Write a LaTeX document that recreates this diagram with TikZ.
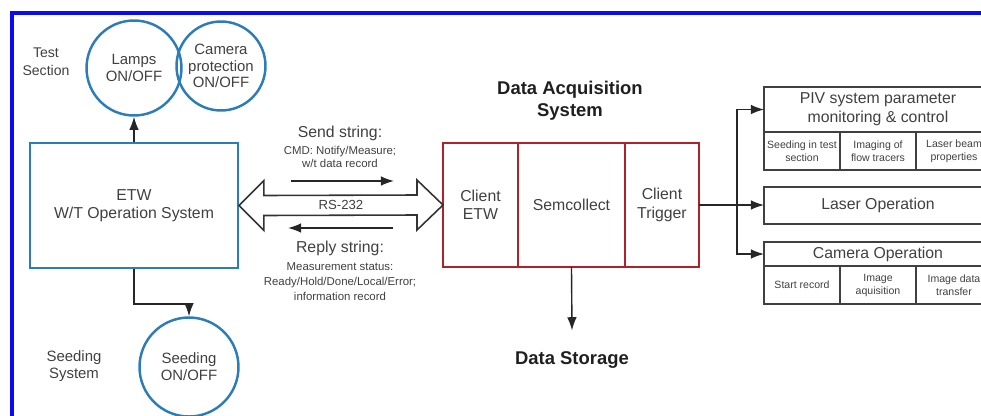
\documentclass[tikz,border=0pt]{standalone}
\usepackage{fontspec}
\setmainfont{Liberation Sans}
\usepackage{xcolor}
\usetikzlibrary{arrows.meta, positioning, calc}

\definecolor{etwblue}{RGB}{44,124,184}
\definecolor{daqred}{RGB}{178,32,44}
\definecolor{framebl}{RGB}{10,10,245}

\begin{document}
\begin{tikzpicture}[
        x=0.02cm, y=-0.02cm,
        txt/.style={text=black!75, align=center, inner sep=1pt},
        side/.style={txt, font=\fontsize{8.5}{10}\selectfont},
        circ/.style={circle, draw=etwblue, line width=1.4pt, inner sep=0pt,
                     txt, font=\fontsize{8.5}{9.5}\selectfont},
        etwbox/.style={rectangle, draw=etwblue, line width=1.1pt,
                       minimum width=4.16cm, minimum height=2.5cm,
                       txt, font=\fontsize{9}{10.5}\selectfont},
        daqcell/.style={rectangle, draw=daqred, line width=1.2pt, outer sep=0pt,
                        minimum height=2.48cm, txt, font=\fontsize{9}{10.5}\selectfont},
        hdbox/.style={rectangle, draw=black!75, line width=0.9pt, outer sep=0pt,
                      minimum width=4.56cm, txt, font=\fontsize{9}{10.8}\selectfont},
        cell/.style={rectangle, draw=black!75, line width=0.9pt, outer sep=0pt,
                     minimum width=1.52cm, minimum height=0.76cm, txt, inner sep=0.5pt,
                     font=\fontsize{6}{7.4}\selectfont},
        title/.style={align=center, text=black!88, font=\bfseries\fontsize{10.5}{12.5}\selectfont},
        arr/.style={-{Latex[length=7.5pt, width=5.5pt]}, line width=0.8pt, black!85},
        bus/.style={draw=black!80, line width=0.9pt, fill=white},
    ]
    \clip (0,0) rectangle (981,416);
    \draw[framebl, line width=2.3pt] (12,420) -- (12,13) -- (985,13);

    % wind tunnel side
    \node[side, font=\fontsize{8}{10}\selectfont] (tsec) at (46,62) {Test\\Section};
    \node[circ, minimum size=1.9cm] (lamps) at (134,68) {Lamps\\ON/OFF};
    \node[circ, minimum size=1.78cm] (cam) at (221,66) {Camera\\protection\\ON/OFF};
    \node[etwbox] (etw) at (134,205.5) {ETW\\W/T Operation System};
    \node[side] (ssys) at (74,366) {Seeding\\System};
    \node[circ, minimum size=1.98cm] (seed) at (189,367) {Seeding\\ON/OFF};

    % data acquisition
    \node[title] (daqt) at (570,101) {Data Acquisition\\System};
    \node[daqcell, minimum width=1.5cm] (cetw) at (480.5,205) {Client\\ETW};
    \node[daqcell, minimum width=2.14cm, right=0pt of cetw] (sem) {Semcollect};
    \node[daqcell, minimum width=1.48cm, right=0pt of sem] (trig) {Client\\Trigger};
    \node[title] (store) at (572,360) {Data Storage};

    % PIV side
    \node[hdbox, minimum height=0.9cm] (piv) at (878,109.5) {PIV system parameter\\monitoring \& control};
    \node[cell, anchor=north west] (pc1) at (piv.south west) {Seeding in test\\section};
    \node[cell, right=0pt of pc1] (pc2) {Imaging of\\flow tracers};
    \node[cell, right=0pt of pc2] (pc3) {Laser beam\\properties};
    \node[hdbox, minimum height=0.74cm] (laser) at (878,205.5) {Laser Operation};
    \node[hdbox, minimum height=0.48cm] (camop) at (878,254) {Camera Operation};
    \node[cell, anchor=north west] (cc1) at (camop.south west) {Start record};
    \node[cell, right=0pt of cc1] (cc2) {Image\\aquisition};
    \node[cell, right=0pt of cc2] (cc3) {Image data\\transfer};

    % RS-232 link
    \node[txt, font=\fontsize{9}{10.5}\selectfont] (sendhd) at (340,133) {Send string:};
    \node[txt, font=\fontsize{6.5}{7.4}\selectfont] (sendtx) at (340,156.5) {CMD: Notify/Measure;\\w/t data record};
    \node[txt, font=\fontsize{9}{10.5}\selectfont] (replyhd) at (340,248) {Reply string:};
    \node[txt, font=\fontsize{6.5}{8.5}\selectfont] (replytx) at (340,282) {Measurement status:\\Ready/Hold/Done/Local/Error;\\information record};
    \coordinate (snd1) at (291,181);
    \coordinate (snd2) at (394,181);
    \coordinate (rpl1) at (393,228);
    \coordinate (rpl2) at (288,228);
    \coordinate (split) at (737,205);

    \draw[bus] (etw.east) -- ++(25,-25) -- ++(0,15) -- ($(cetw.west)+(-26,-10)$) -- ++(0,-15)
        -- (cetw.west) -- ++(-26,25) -- ++(0,-15) -- ($(etw.east)+(25,10)$) -- ++(0,15) -- cycle;
    \node[txt, font=\fontsize{7.5}{9}\selectfont] (rs) at ($(etw.east)!0.5!(cetw.west)$) {RS-232};

    \draw[arr] (snd1) -- (snd2);
    \draw[arr] (rpl1) -- (rpl2);
    \draw[arr] (etw.north) -- (lamps.south);
    \draw[arr] (etw.south) -- ++(0,35) -| (seed.north);
    \draw[arr] (sem.south) -- ([yshift=0.3cm]store.north);
    \draw[arr] (trig.east) -- (trig.east -| laser.west);
    \draw[arr] (split) |- (piv.west);
    \draw[arr] (split) |- (camop.west);
\end{tikzpicture}
\end{document}
